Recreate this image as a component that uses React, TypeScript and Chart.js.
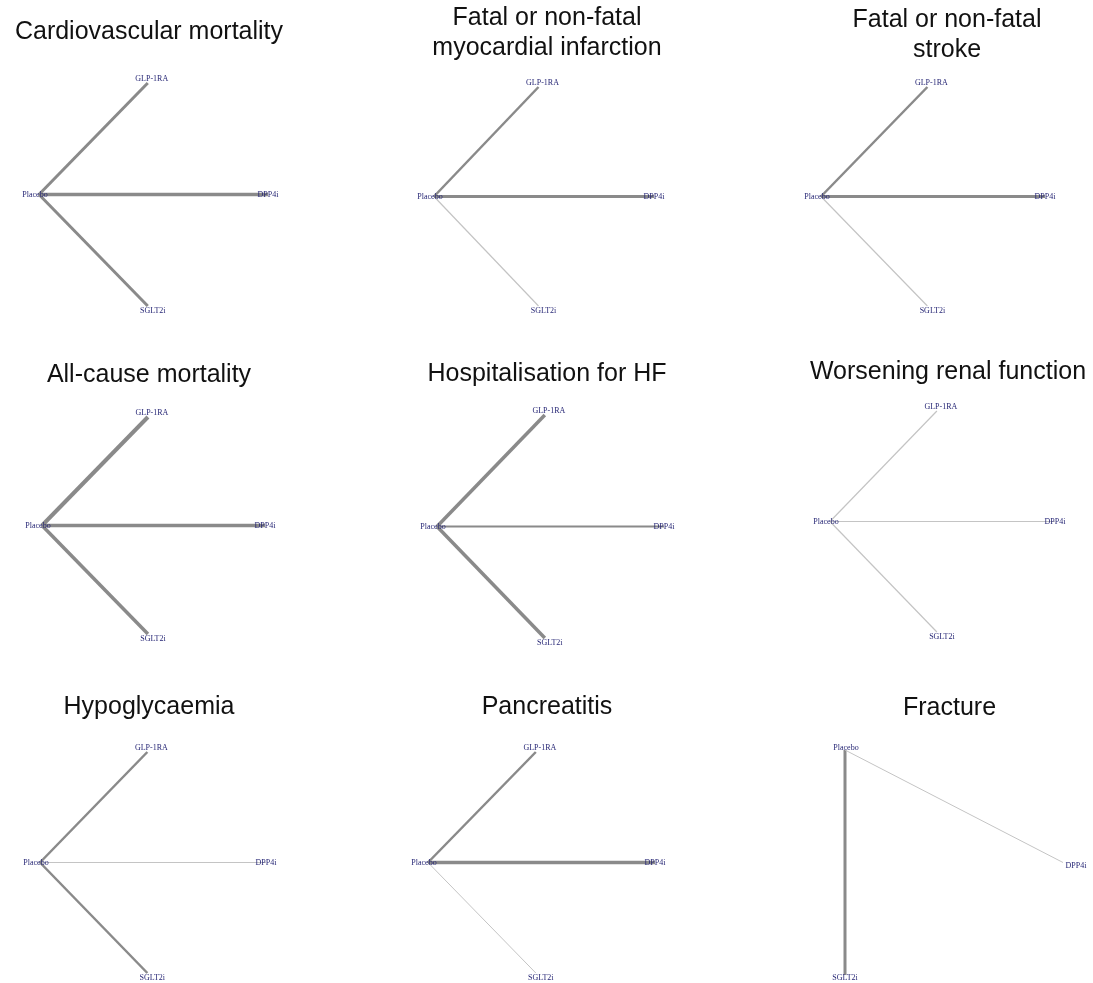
import React, { useEffect, useRef } from "react";
import { Chart, registerables } from "chart.js";

Chart.register(...registerables);

// ---------- data ----------
const treatments = ["Placebo", "GLP-1RA", "DPP4i", "SGLT2i"];
// network layout (unit coordinates) of the standard 4-node network
const nodeX = [-1, -0.05, 1, -0.05];
const nodeY = [0, 1, 0, -1];
// fracture network has no GLP-1RA node
const fractureNodeX = [-1, null, 1, -1];
const fractureNodeY = [1, null, 0, -1];

// comparisons: all against placebo
const comparisonFrom = ["Placebo", "Placebo", "Placebo"];
const comparisonTo = ["GLP-1RA", "DPP4i", "SGLT2i"];

// edge thickness (proportional to amount of evidence) for each outcome
const cvMortality = [3, 3.5, 3];
const myocardialInfarction = [2.5, 3, 1.2];
const stroke = [2.5, 3, 1.2];
const allCauseMortality = [4, 3.5, 3.5];
const hospitalisationHF = [3.5, 2, 3.5];
const renalFunction = [1.2, 1.2, 1.2];
const hypoglycaemia = [2.5, 1.2, 2.5];
const pancreatitis = [2.5, 3.5, 1];
const fracture = [0, 1, 3];

const outcomeTitles: (string | string[])[] = [
  "Cardiovascular mortality",
  ["Fatal or non-fatal", "myocardial infarction"],
  ["Fatal or non-fatal", "stroke"],
  "All-cause mortality",
  "Hospitalisation for HF",
  "Worsening renal function",
  "Hypoglycaemia",
  "Pancreatitis",
  "Fracture",
];
const outcomeWidths = [
  cvMortality,
  myocardialInfarction,
  stroke,
  allCauseMortality,
  hospitalisationHF,
  renalFunction,
  hypoglycaemia,
  pancreatitis,
  fracture,
];

// ---------- layout (page pixels) ----------
// canvas frame, title top padding, pixel location of the network's extremes
const frames = [
  { left: 0, top: 0, width: 298, height: 335, titlePad: 17, nodeLeft: 39, nodeRight: 268, nodeTop: 83, nodeBottom: 306 },
  { left: 364, top: 0, width: 366, height: 335, titlePad: 3.5, nodeLeft: 434, nodeRight: 654, nodeTop: 87, nodeBottom: 306 },
  { left: 801, top: 0, width: 292, height: 335, titlePad: 5, nodeLeft: 821, nodeRight: 1045, nodeTop: 87, nodeBottom: 306 },
  { left: 0, top: 340, width: 298, height: 320, titlePad: 20, nodeLeft: 42, nodeRight: 265, nodeTop: 417, nodeBottom: 634 },
  { left: 364, top: 340, width: 366, height: 320, titlePad: 19, nodeLeft: 437, nodeRight: 664, nodeTop: 415, nodeBottom: 638 },
  { left: 803, top: 340, width: 290, height: 320, titlePad: 17.5, nodeLeft: 830, nodeRight: 1055, nodeTop: 411, nodeBottom: 632 },
  { left: 0, top: 660, width: 298, height: 323, titlePad: 32, nodeLeft: 40, nodeRight: 266, nodeTop: 752, nodeBottom: 973 },
  { left: 364, top: 660, width: 366, height: 323, titlePad: 32, nodeLeft: 428, nodeRight: 655, nodeTop: 752, nodeBottom: 973 },
  { left: 806, top: 660, width: 287, height: 323, titlePad: 33.5, nodeLeft: 845, nodeRight: 1063, nodeTop: 750, nodeBottom: 975 },
];

const labelShift: Record<string, [number, number]> = {
  Placebo: [-4, 0],
  "GLP-1RA": [4, -4],
  DPP4i: [0, 0],
  SGLT2i: [5, 5],
};
const fractureLabelShift: Record<string, [number, number]> = {
  Placebo: [1, -2],
  DPP4i: [13, 3],
  SGLT2i: [0, 3],
};

const TITLE_SIZE = 25;
const TITLE_LH = 1.2;

function Panel({ index }: { index: number }) {
  const ref = useRef<HTMLCanvasElement>(null);
  const f = frames[index];

  useEffect(() => {
    const canvas = ref.current;
    if (!canvas) return;
    const isFracture = index === 8;
    const xs = isFracture ? fractureNodeX : nodeX;
    const ys = isFracture ? fractureNodeY : nodeY;
    const shifts = isFracture ? fractureLabelShift : labelShift;
    const title = outcomeTitles[index];
    const widths = outcomeWidths[index];

    const lines = Array.isArray(title) ? title.length : 1;
    const topLocal = f.nodeTop - f.top;
    const bottomLocal = f.nodeBottom - f.top;
    const titleBottomPad = topLocal - f.titlePad - lines * TITLE_SIZE * TITLE_LH;

    const a = f.nodeLeft - f.left;
    const b = f.nodeRight - f.left;
    const k = (b - a) / 2;
    const xMin = -1 - a / k;
    const xMax = xMin + f.width / k;

    const datasets: any[] = [];
    widths.forEach((w, i) => {
      if (!w) return;
      const ia = treatments.indexOf(comparisonFrom[i]);
      const ib = treatments.indexOf(comparisonTo[i]);
      datasets.push({
        label: comparisonFrom[i] + " vs " + comparisonTo[i],
        data: [
          { x: xs[ia], y: ys[ia] },
          { x: xs[ib], y: ys[ib] },
        ],
        showLine: true,
        borderWidth: w,
        borderColor: w >= 2 ? "#8a8a8a" : "#c4c4c4",
        pointRadius: 0,
        pointHoverRadius: 0,
        clip: false,
      });
    });

    const nodeLabels = {
      id: "nodeLabels",
      afterDatasetsDraw(chart: any) {
        const ctx = chart.ctx;
        const sx = chart.scales.x;
        const sy = chart.scales.y;
        ctx.save();
        ctx.font = "8px 'Liberation Serif', 'Times New Roman', serif";
        ctx.fillStyle = "#262675";
        ctx.textAlign = "center";
        ctx.textBaseline = "middle";
        treatments.forEach((t, i) => {
          if (xs[i] === null || ys[i] === null) return;
          const px = sx.getPixelForValue(xs[i] as number);
          const py = sy.getPixelForValue(ys[i] as number);
          const s = shifts[t] || [0, 0];
          ctx.fillText(t, px + s[0], py + s[1]);
        });
        ctx.restore();
      },
    };

    const chart = new Chart(canvas, {
      type: "scatter",
      data: { datasets },
      options: {
        animation: false,
        responsive: false,
        maintainAspectRatio: false,
        devicePixelRatio: 1,
        events: [],
        layout: { padding: { top: 0, left: 0, right: 0, bottom: f.height - bottomLocal } },
        scales: {
          x: { type: "linear", min: xMin, max: xMax, display: false, grid: { display: false } },
          y: { type: "linear", min: -1, max: 1, display: false, grid: { display: false } },
        },
        plugins: {
          legend: { display: false },
          tooltip: { enabled: false },
          title: {
            display: true,
            text: title as any,
            color: "#111111",
            fullSize: true,
            font: { family: "'Liberation Sans', Arial, Helvetica, sans-serif", size: TITLE_SIZE, weight: "normal", lineHeight: TITLE_LH },
            padding: { top: f.titlePad, bottom: titleBottomPad },
          },
        },
      },
      plugins: [nodeLabels],
    });
    return () => chart.destroy();
  }, [index]);

  return (
    <canvas
      ref={ref}
      width={f.width}
      height={f.height}
      style={{ position: "absolute", left: f.left, top: f.top, width: f.width, height: f.height }}
    />
  );
}

export default function App() {
  return (
    <div style={{ position: "absolute", left: 0, top: 0, width: 1093, height: 983, background: "#ffffff", overflow: "hidden" }}>
      {frames.map((_, i) => (
        <Panel key={i} index={i} />
      ))}
    </div>
  );
}
